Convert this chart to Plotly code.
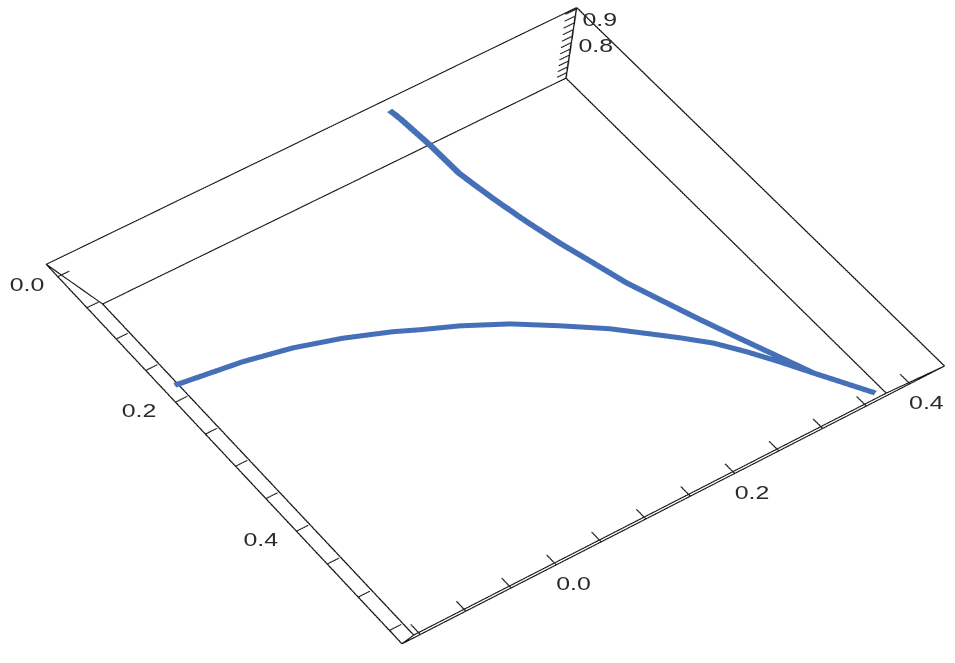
import plotly.graph_objects as go

# ---- data ----
curve_x = [-0.015, -0.004, 0.034, 0.075, 0.118, 0.162, 0.203, 0.244, 0.286, 0.325, 0.372, 0.426, 0.502, 0.563,
           0.502, 0.469, 0.437, 0.407, 0.381, 0.366, 0.329, 0.296, 0.265, 0.238, 0.219, 0.206, 0.184, 0.167, 0.154, 0.143]
curve_y = [0.216, 0.220, 0.228, 0.234, 0.245, 0.257, 0.270, 0.284, 0.298, 0.314, 0.333, 0.356, 0.388, 0.426,
           0.389, 0.369, 0.348, 0.326, 0.301, 0.285, 0.247, 0.206, 0.165, 0.120, 0.083, 0.058, 0.010, -0.040, -0.093, -0.169]
curve_z = [0.900, 0.885, 0.850, 0.815, 0.790, 0.770, 0.750, 0.735, 0.720, 0.710, 0.700, 0.690, 0.680, 0.670,
           0.675, 0.680, 0.685, 0.690, 0.695, 0.700, 0.705, 0.710, 0.715, 0.720, 0.720, 0.725, 0.725, 0.730, 0.730, 0.735]

x_range = (-0.02, 0.57)
y_range = (-0.17, 0.44)
z_range = (0.65, 0.93)

x_ticks = [0.0, 0.05, 0.10, 0.15, 0.20, 0.25, 0.30, 0.35, 0.40, 0.45, 0.50, 0.55]
y_ticks = [-0.15, -0.10, -0.05, 0.0, 0.05, 0.10, 0.15, 0.20, 0.25, 0.30, 0.35, 0.40]
z_ticks = [0.675, 0.70, 0.725, 0.75, 0.775, 0.80, 0.825, 0.85, 0.875, 0.90, 0.925]
x_labels = [0.0, 0.2, 0.4]
y_labels = [0.0, 0.2, 0.4]
z_labels = [0.8, 0.9]

# ---- view ----
STRETCH = 0.7227            # the picture is wider than it is tall by 1/STRETCH
VIEW_H = 1250
ASPECT = (1.0, 1.036, 0.49)
PAD = 0.05
EYE = dict(x=0.4635, y=-0.3269, z=3.5017)
CENTER = dict(x=-0.0167, y=-0.0190, z=0.0006)
UP = dict(x=-0.8090, y=0.5654, z=0.1607)

x0, x1 = x_range
y0, y1 = y_range
z0, z1 = z_range

bx, by, bz = [], [], []
corners = [(x0, y0), (x0, y1), (x1, y1), (x1, y0)]
for z in (z0, z1):
    for i in range(4):
        a, b = corners[i], corners[(i + 1) % 4]
        bx += [a[0], b[0], None]; by += [a[1], b[1], None]; bz += [z, z, None]
for a in corners:
    bx += [a[0], a[0], None]; by += [a[1], a[1], None]; bz += [z0, z1, None]

tx, ty, tz = [], [], []
for v in x_ticks:
    tx += [v, v, None]; ty += [y0, y0 + 0.013, None]; tz += [z1, z1, None]
for v in y_ticks:
    tx += [x1, x1 - 0.015, None]; ty += [v, v, None]; tz += [z1, z1, None]
for v in z_ticks:
    tx += [x0, x0, None]; ty += [y1, y1 - 0.013, None]; tz += [v, v, None]

fig = go.Figure()
fig.add_trace(go.Scatter3d(x=bx, y=by, z=bz, mode='lines', hoverinfo='skip',
                           line=dict(color='#111111', width=2)))
fig.add_trace(go.Scatter3d(x=tx, y=ty, z=tz, mode='lines', hoverinfo='skip',
                           line=dict(color='#222222', width=2)))
fig.add_trace(go.Scatter3d(x=curve_x, y=curve_y, z=curve_z, mode='lines', hoverinfo='skip',
                           line=dict(color='#4570B8', width=10)))

def padded(r):
    s = r[1] - r[0]
    return [r[0] - PAD * s, r[1] + PAD * s]

def label(x, y, z, text, dx, dy):
    return dict(x=x, y=y, z=z, text=text, showarrow=False, xanchor='center', yanchor='middle',
                xshift=dx * STRETCH, yshift=-dy,
                font=dict(family='Liberation Sans', size=18, color='#2a2a2a'))

notes = []
for v in x_labels:
    notes.append(label(v, y0, z1, f"{v:.1f}", -31 if v == 0 else -36, 9))
for v in y_labels:
    notes.append(label(x1, v, z1, f"{v:.1f}", 17, 20))
for v in z_labels:
    notes.append(label(x0, y1, v, f"{v:.1f}", 24, 4))

k = 1 + 2 * PAD
axis = dict(visible=False, showbackground=False)
fig.update_layout(
    width=955 * STRETCH, height=VIEW_H, margin=dict(l=0, r=0, t=0, b=0),
    showlegend=False, paper_bgcolor='white',
    scene=dict(
        xaxis=dict(range=padded(x_range), **axis),
        yaxis=dict(range=padded(y_range), **axis),
        zaxis=dict(range=padded(z_range), **axis),
        aspectmode='manual',
        aspectratio=dict(x=ASPECT[0] * k, y=ASPECT[1] * k, z=ASPECT[2] * k),
        camera=dict(eye=EYE, center=CENTER, up=UP),
        annotations=notes,
    ),
)

offset_y = 331.5 - VIEW_H / 2
js = ("document.documentElement.style.overflow='hidden';"
      "document.body.style.margin='0';document.body.style.overflow='hidden';"
      "var d=document.querySelector('.plotly-graph-div');d.style.transformOrigin='0 0';"
      f"d.style.transform='translate(0px,{offset_y}px) scale({1 / STRETCH},1)';")
fig.write_html("out.html", post_script=js, config=dict(displayModeBar=False))
